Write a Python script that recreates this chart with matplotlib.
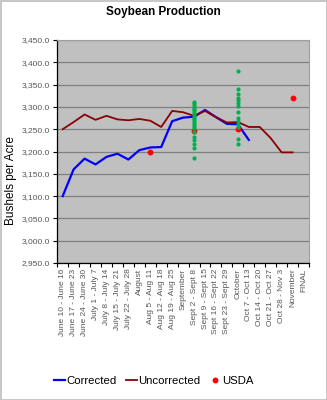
import matplotlib.pyplot as plt
import numpy as np

plt.rcParams['font.family'] = ['Liberation Sans', 'DejaVu Sans']

# weekly report periods
periods = [
    "June 10 - June 16", "June 17 - June 23", "June 24 - June 30", "July 1 - July 7",
    "July 8 - July 14", "July 15 - July 21", "July 22 - July 28", "August",
    "Aug 5 - Aug 11", "Aug 12 - Aug 18", "Aug 19 - Aug 25", "September",
    "Sept 2 - Sept 8", "Sept 9 - Sept 15", "Sept 16 - Sept 22", "Sept 23 - Sept 29",
    "October", "Oct 7 - Oct 13", "Oct 14 - Oct 20", "Oct 21 - Oct 27",
    "Oct 28 - Nov 3", "November", "FINAL",
]

nan = np.nan
corrected = [3100, 3160, 3184, 3171, 3188, 3195, 3182, 3203, 3209, 3210, 3268, 3276,
             3278, 3293, 3277, 3262, 3261, 3226, nan, nan, nan, nan, nan]
uncorrected = [3250, 3266, 3283, 3271, 3280, 3272, 3270, 3273, 3269, 3255, 3291, 3288,
               3280, 3291, 3277, 3265, 3266, 3255, 3255, 3230, 3198, 3198, nan]
usda = [nan, nan, nan, nan, nan, nan, nan, nan, 3200, nan, nan, nan,
        3246, nan, nan, nan, 3250, nan, nan, nan, nan, 3320, nan]

# analyst estimates for the September and October reports
est_sept = [3312, 3308, 3304, 3300, 3296, 3292, 3288, 3284, 3280, 3276, 3272, 3268,
            3264, 3260, 3256, 3252, 3243, 3233, 3225, 3216, 3207, 3186]
est_oct = [3381, 3341, 3329, 3321, 3315, 3309, 3303, 3289, 3276, 3268, 3262, 3256,
           3227, 3217]
est_sept_idx = periods.index("Sept 2 - Sept 8")
est_oct_idx = periods.index("October")

x = np.arange(len(periods))

fig = plt.figure(figsize=(3.27, 4.0), dpi=100)
fig.patch.set_facecolor('white')
fig.patch.set_edgecolor('#c8c8c8')
fig.patch.set_linewidth(1)
ax = fig.add_axes([0.175, 0.3425, 0.77, 0.5575])
ax.set_facecolor('#c0c0c0')

ax.plot(x, corrected, color='#0000ff', lw=1.6, label='Corrected', zorder=3)
ax.plot(x, uncorrected, color='#8b0000', lw=1.3, label='Uncorrected', zorder=3)
ax.plot(x, usda, 'o', color='#ff0000', ms=3.2, label='USDA', zorder=4)
ax.plot(np.full(len(est_sept), est_sept_idx), est_sept, 'o', color='#00b050',
        ms=3.0, mec='none', zorder=5)
ax.plot(np.full(len(est_oct), est_oct_idx), est_oct, 'o', color='#00b050',
        ms=3.0, mec='none', zorder=5)

ax.set_ylim(2950, 3450)
ax.set_yticks(np.arange(2950, 3451, 50))
ax.set_yticklabels([f"{v:,.1f}" for v in np.arange(2950, 3451, 50)],
                   fontsize=6, color='#555555')
ax.grid(axis='y', color='#808080', lw=0.9)
ax.set_axisbelow(True)

ax.set_xlim(-0.5, len(periods) - 0.5)
ax.set_xticks(x)
ax.set_xticklabels(periods, rotation=90, fontsize=6, color='#555555')
ax.set_xticks(np.arange(-0.5, len(periods), 1), minor=True)
ax.tick_params(axis='x', which='major', length=0, pad=4)
ax.tick_params(axis='x', which='minor', length=3, width=0.8, direction='out')
ax.tick_params(axis='y', length=3, width=0.8, direction='out', pad=2)

for side in ['top', 'right']:
    ax.spines[side].set_color('#a0a0a0')
for side in ['left', 'bottom']:
    ax.spines[side].set_color('black')
    ax.spines[side].set_linewidth(0.9)

ax.set_ylabel("Bushels per Acre", fontsize=8.5)
ax.yaxis.set_label_coords(-0.16, 0.37)
fig.text(0.5, 0.97, "Soybean Production", ha='center', va='center',
         fontsize=8.5, fontweight='bold')

fig.legend(loc='lower center', bbox_to_anchor=(0.47, 0.01), ncol=3, frameon=False,
           fontsize=8.2, handlelength=1.0, handletextpad=0.1, columnspacing=0.8,
           numpoints=1, markerscale=1.0)

fig.savefig('out.png', dpi=100)
